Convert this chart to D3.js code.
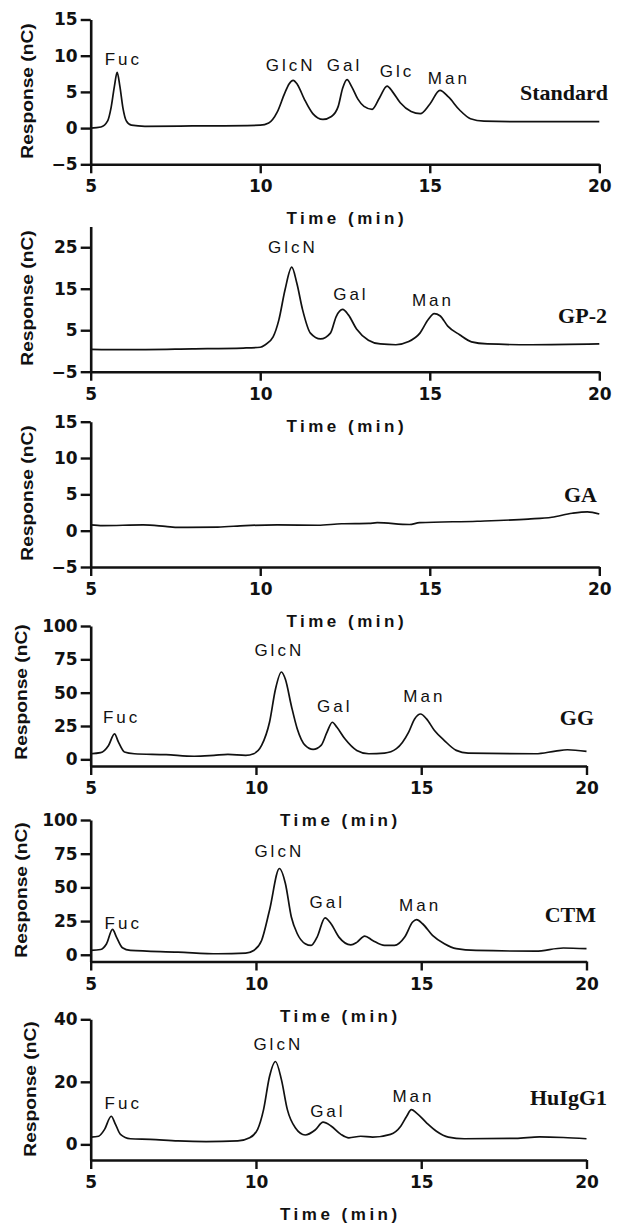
<!DOCTYPE html>
<html><head><meta charset="utf-8">
<script src="https://cdn.jsdelivr.net/npm/d3@7"></script>
<style>
html,body{margin:0;padding:0;background:#fff;}
svg{display:block;}
</style></head><body>
<script>
// ---------------- DATA ----------------
const xTicks = [5, 10, 15, 20];
const xLabel = "Time (min)";
const yLabel = "Response (nC)";
const sampleNames = ["Standard", "GP-2", "GA", "GG", "CTM", "HuIgG1"];

// Standard
const stdTime = [5,5.3,5.5,5.6,5.7,5.78,5.86,5.95,6.05,6.2,6.6,8,10,10.25,10.5,10.72,10.85,10.97,11.1,11.3,11.55,11.85,12.1,12.3,12.43,12.56,12.7,12.88,13.06,13.3,13.52,13.74,13.92,14.13,14.45,14.72,15.0,15.3,15.55,15.88,16.2,16.6,17.5,20];
const stdResp = [0,0.15,1.0,2.8,5.8,7.7,5.8,2.8,1.0,0.4,0.25,0.3,0.4,0.7,2.2,4.8,6.1,6.6,6.0,4.0,2.0,1.2,1.6,3.0,5.5,6.7,5.7,4.0,3.0,2.6,4.2,5.8,4.9,3.5,2.3,2.0,3.3,5.2,4.3,2.5,1.3,0.95,0.9,0.9];
const stdTicks = [-5, 0, 5, 10, 15];
const stdPeakNames = ["Fuc", "GlcN", "Gal", "Glc", "Man"];
const stdPeakTime = [5.92, 10.85, 12.44, 13.99, 15.52];
const stdPeakResp = [8.7, 7.9, 7.9, 7.0, 6.1];

// GP-2
const gp2Time = [5,6,8,9.5,10,10.14,10.38,10.55,10.73,10.93,11.08,11.25,11.48,11.78,12.07,12.24,12.43,12.6,12.84,13.19,13.54,14.0,14.36,14.71,14.95,15.13,15.3,15.53,15.88,16.23,16.7,18,20];
const gp2Resp = [0.4,0.3,0.5,0.7,0.9,1.45,3.4,7.5,14.7,20.2,16.3,9.9,4.3,2.9,4.3,8.3,10.0,8.7,5.3,2.6,1.7,1.5,2.2,4.3,7.5,9.0,8.5,6.0,3.9,2.2,1.7,1.5,1.7];
const gp2Ticks = [-5, 5, 15, 25];
const gp2PeakNames = ["GlcN", "Gal", "Man"];
const gp2PeakTime = [10.92, 12.63, 15.05];
const gp2PeakResp = [23.5, 12.3, 10.9];

// GA
const gaTime = [5,5.35,6.55,7.2,7.6,8.75,9.56,10.5,11.7,12.4,13.2,13.45,14.4,14.7,16.4,17.9,18.6,19.2,19.65,20];
const gaResp = [0.8,0.7,0.8,0.6,0.45,0.5,0.7,0.8,0.75,0.95,1.0,1.1,0.85,1.1,1.3,1.6,1.85,2.4,2.6,2.3];
const gaTicks = [-5, 0, 5, 10, 15];

// GG
const ggTime = [5,5.3,5.54,5.72,5.84,6.02,6.32,7.28,8.13,8.73,9.15,9.69,9.93,10.17,10.41,10.59,10.77,10.89,11.07,11.25,11.49,11.73,11.97,12.15,12.31,12.45,12.69,13.05,13.41,13.89,14.25,14.62,14.8,14.98,15.16,15.4,15.7,16.06,16.42,18.46,19.06,19.42,20];
const ggResp = [4.2,5.0,10.4,19.1,12.9,5.5,4.2,3.5,2.3,3.0,3.7,3.0,4.2,10.4,27.8,52.6,65.5,60,40.2,22.8,10.4,7.4,10.4,20.4,27.8,24,15.4,6.7,4.2,4.7,8.0,20.4,30.3,34.0,30.3,21.6,14.1,6.7,4.7,4.2,6.2,7.2,6.0];
const ggTicks = [0, 25, 50, 75, 100];
const ggPeakNames = ["Fuc", "GlcN", "Gal", "Man"];
const ggPeakTime = [5.89, 10.66, 12.34, 15.05];
const ggPeakResp = [27.3, 77.4, 35.3, 42.7];

// CTM
const ctmTime = [5,5.3,5.48,5.66,5.78,5.96,6.2,7.64,8.85,9.69,9.93,10.17,10.41,10.71,10.89,11.07,11.25,11.49,11.67,11.85,12.09,12.27,12.51,12.87,13.05,13.29,13.53,13.89,14.19,14.5,14.74,14.86,15.04,15.34,15.7,16.06,16.66,18.46,19.3,20];
const ctmResp = [3.2,3.9,8.2,18.8,13.1,5.2,3.2,2.0,0.75,1.2,3.2,10.6,33,64,52.9,28,15.6,8.2,6.9,13.1,27.3,23,13.1,7.4,9.2,13.9,10.6,6.9,6.9,13.1,24.3,26,23,14.4,8.2,4.5,3.2,2.7,5.0,4.5];
const ctmTicks = [0, 25, 50, 75, 100];
const ctmPeakNames = ["Fuc", "GlcN", "Gal", "Man"];
const ctmPeakTime = [5.94, 10.66, 12.11, 14.92];
const ctmPeakResp = [19.4, 72.7, 35, 32.5];

// HuIgG1
const hugTime = [5,5.24,5.42,5.62,5.75,5.9,6.2,6.8,7.64,8.49,9.45,9.81,10.05,10.23,10.41,10.59,10.77,10.95,11.19,11.49,11.79,12.03,12.27,12.57,12.81,13.17,13.53,14.07,14.38,14.56,14.7,14.86,15.16,15.46,15.82,16.3,17.86,18.58,19.3,20];
const hugResp = [2.3,2.6,4.8,9.0,6.4,3.2,1.8,1.6,1.1,0.9,1.1,2.1,4.8,11.1,21.7,26.5,20.7,11.1,5.3,3.0,4.6,7.1,5.9,3.2,2.1,2.6,2.3,3.2,5.8,9.0,11.1,10,6.9,4.2,2.3,1.8,1.9,2.4,2.2,1.8];
const hugTicks = [0, 20, 40];
const hugPeakNames = ["Fuc", "GlcN", "Gal", "Man"];
const hugPeakTime = [5.94, 10.63, 12.13, 14.72];
const hugPeakResp = [11.4, 30.2, 8.8, 13.5];

// ---------------- LAYOUT ----------------
const panels = [
  {time: stdTime, resp: stdResp, ticks: stdTicks, dom: [-5, 15], pn: stdPeakNames, pt: stdPeakTime, pr: stdPeakResp,
   top: 19.5, bottom: 164.3, right: 599.3, ylx: 27.5, yly: 91, nx: 608, ny: 100},
  {time: gp2Time, resp: gp2Resp, ticks: gp2Ticks, dom: [-5, 30], pn: gp2PeakNames, pt: gp2PeakTime, pr: gp2PeakResp,
   top: 226.5, bottom: 371.7, right: 599.3, ylx: 27.5, yly: 298, nx: 607, ny: 323},
  {time: gaTime, resp: gaResp, ticks: gaTicks, dom: [-5, 15], pn: [], pt: [], pr: [],
   top: 421.7, bottom: 567, right: 599.3, ylx: 27.5, yly: 493, nx: 597, ny: 501.7},
  {time: ggTime, resp: ggResp, ticks: ggTicks, dom: [-5, 100], pn: ggPeakNames, pt: ggPeakTime, pr: ggPeakResp,
   top: 626, bottom: 766, right: 586.5, ylx: 21.5, yly: 692, nx: 594, ny: 725},
  {time: ctmTime, resp: ctmResp, ticks: ctmTicks, dom: [-5, 100], pn: ctmPeakNames, pt: ctmPeakTime, pr: ctmPeakResp,
   top: 820, bottom: 961.5, right: 586.5, ylx: 21.5, yly: 890, nx: 596, ny: 921.7},
  {time: hugTime, resp: hugResp, ticks: hugTicks, dom: [-5, 40], pn: hugPeakNames, pt: hugPeakTime, pr: hugPeakResp,
   top: 1019.3, bottom: 1160, right: 586.5, ylx: 30, yly: 1089, nx: 607, ny: 1105}
];
const LEFT = 90.7;
const ink = "#111";

const svg = d3.select("body").append("svg").attr("width", 621).attr("height", 1223)
  .style("background", "#fff");

panels.forEach((p, i) => {
  const x = d3.scaleLinear().domain([5, 20]).range([LEFT, p.right]);
  const y = d3.scaleLinear().domain(p.dom).range([p.bottom, p.top]);
  const g = svg.append("g");

  // axes
  const ya = g.append("g").attr("transform", `translate(${LEFT},0)`)
    .call(d3.axisLeft(y).tickValues(p.ticks).tickSize(10).tickSizeOuter(0).tickPadding(3).tickFormat(d3.format("d")));
  const xa = g.append("g").attr("transform", `translate(0,${p.bottom})`)
    .call(d3.axisBottom(x).tickValues(xTicks).tickSize(9).tickSizeOuter(0).tickPadding(7));
  [ya, xa].forEach(a => {
    a.select(".domain").attr("stroke", ink).attr("stroke-width", 2.6);
    a.selectAll(".tick line").attr("stroke", ink).attr("stroke-width", 2.4);
    a.selectAll(".tick text").attr("fill", ink)
      .style("font-family", "'DejaVu Sans', sans-serif").style("font-weight", "bold").style("font-size", "17px");
  });

  // trace
  const pts = p.time.map((t, k) => [t, p.resp[k]]);
  g.append("path").datum(pts)
    .attr("fill", "none").attr("stroke", ink).attr("stroke-width", 1.7).attr("stroke-linejoin", "round")
    .attr("d", d3.line().x(d => x(d[0])).y(d => y(d[1])).curve(d3.curveMonotoneX));

  // peak labels
  p.pn.forEach((n, k) => {
    g.append("text").text(n)
      .attr("x", x(p.pt[k]) + 1.5).attr("y", y(p.pr[k]))
      .attr("text-anchor", "middle").attr("fill", ink)
      .style("font-family", "'Liberation Sans', Arial, sans-serif").style("font-size", "17px")
      .style("letter-spacing", "3px");
  });

  // sample name
  g.append("text").text(sampleNames[i])
    .attr("x", p.nx).attr("y", p.ny).attr("text-anchor", "end").attr("fill", ink)
    .style("font-family", "'Liberation Serif', 'Times New Roman', serif").style("font-weight", "bold")
    .style("font-size", "22px");

  // x axis title
  g.append("text").text(xLabel)
    .attr("x", (LEFT + p.right) / 2 + 1.75).attr("y", p.bottom + 60)
    .attr("text-anchor", "middle").attr("fill", ink)
    .style("font-family", "'Liberation Sans', Arial, sans-serif").style("font-weight", "bold")
    .style("font-size", "17px").style("letter-spacing", "3.5px");

  // y axis title
  g.append("text").text(yLabel)
    .attr("transform", `translate(${p.ylx},${p.yly}) rotate(-90) scale(1.2,1)`)
    .attr("text-anchor", "middle").attr("dy", "0.35em").attr("fill", ink)
    .style("font-family", "'Liberation Sans', Arial, sans-serif").style("font-weight", "bold")
    .style("font-size", "16px");
});
</script>
</body></html>
